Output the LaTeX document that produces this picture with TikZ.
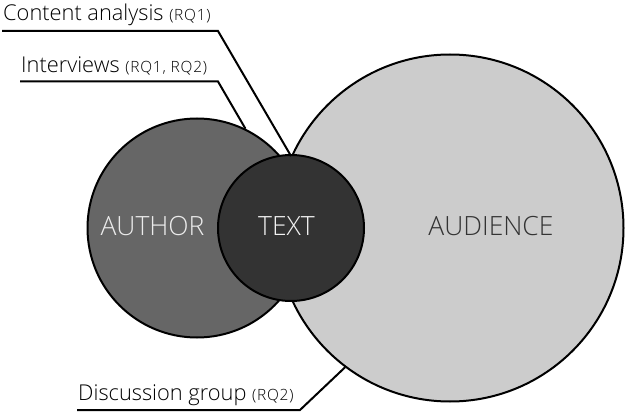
\documentclass[tikz,border=0pt]{standalone}
\usepackage{fontspec}
\setmainfont{Open Sans}[UprightFont={* Light}]
\definecolor{authorfill}{HTML}{666666}
\definecolor{textfill}{HTML}{333333}
\definecolor{audfill}{HTML}{CCCCCC}
\begin{document}
\begin{tikzpicture}[x=1pt,y=-1pt,
  circ/.style={circle,draw=black,line width=2pt,inner sep=0pt},
  lead/.style={draw=black,line width=2pt},
  lbl/.style={anchor=base west,inner sep=0pt,font=\fontsize{21.8}{26}\selectfont},
  big/.style={font=\fontsize{26.5}{30}\selectfont}]
\newcommand{\rqsize}{\fontsize{15.5}{17}\selectfont\addfontfeature{LetterSpace=5}}
\useasboundingbox (0,0) rectangle (627,412);
\node[circ,fill=authorfill,minimum size=219pt] (author) at (197,228) {};
\node[circ,fill=audfill,minimum size=347pt] (audience) at (450,228) {};
\node[circ,fill=textfill,minimum size=146pt] (text) at (291,228) {};
\node[big,text=white!92!black] (authorlbl) at (152.5,226.5) {AUTHOR};
\node[big,text=white!95!black] (textlbl) at (286.5,226.5) {TEXT};
\node[big,text=textfill] (audlbl) at (491,226.5) {AUDIENCE};
% labels
\node[lbl] (ca) at (3,21) {Content analysis {\rqsize(RQ1)}};
\node[lbl] (iv) at (21,73) {Interviews {\rqsize(RQ1, RQ2)}};
\node[lbl] (dg) at (78,400) {Discussion group {\rqsize(RQ2)}};
\coordinate (caA) at (2,31);
\coordinate (caB) at (218,31);
\coordinate (ivA) at (20,81.5);
\coordinate (ivB) at (218,81.5);
\coordinate (dgA) at (77,410);
\coordinate (dgB) at (300,410);
\coordinate (caE) at (291,156);
\coordinate (ivE) at (author.64.5);
\coordinate (dgE) at (audience.233.5);
\draw[lead] (caA) -- (caB) -- (caE);
\draw[lead] (ivA) -- (ivB) -- (ivE);
\draw[lead] (dgA) -- (dgB) -- (dgE);
\end{tikzpicture}
\end{document}
